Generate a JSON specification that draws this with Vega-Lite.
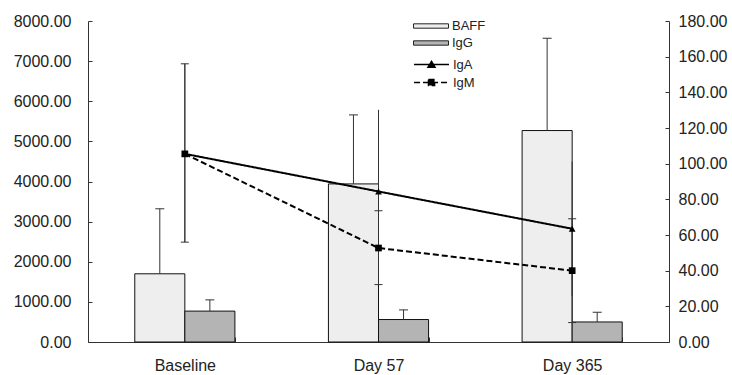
{
  "$schema": "https://vega.github.io/schema/vega-lite/v6.json",
  "width": 581,
  "height": 321,
  "autosize": {"type": "none"},
  "padding": {"left": 88, "top": 21, "right": 63, "bottom": 33},
  "background": "white",
  "config": {
    "view": {"stroke": null},
    "font": "Liberation Sans",
    "axis": {"labelFont": "Liberation Sans", "labelFontSize": 16, "labelColor": "#222", "domainColor": "#333", "tickColor": "#333", "grid": false},
    "legend": {"labelFont": "Liberation Sans"}
  },
  "datasets": {
    "bars": [
      {"time": "Baseline", "series": "BAFF", "value": 1700, "upper": 3320},
      {"time": "Baseline", "series": "IgG", "value": 770, "upper": 1050},
      {"time": "Day 57", "series": "BAFF", "value": 3940, "upper": 5660},
      {"time": "Day 57", "series": "IgG", "value": 560, "upper": 800},
      {"time": "Day 365", "series": "BAFF", "value": 5270, "upper": 7570},
      {"time": "Day 365", "series": "IgG", "value": 500, "upper": 740}
    ],
    "lines": [
      {"time": "Baseline", "series": "IgA", "value": 105.5, "lo": 56, "hi": 156},
      {"time": "Baseline", "series": "IgM", "value": 105.5, "lo": 56, "hi": 156},
      {"time": "Day 57", "series": "IgA", "value": 84.4, "lo": 38.6, "hi": 130.2},
      {"time": "Day 57", "series": "IgM", "value": 52.7, "lo": 32.2, "hi": 73.6},
      {"time": "Day 365", "series": "IgA", "value": 63.5, "lo": 25.8, "hi": 101.2},
      {"time": "Day 365", "series": "IgM", "value": 40, "lo": 10.9, "hi": 69.1}
    ]
  },
  "encoding": {
    "x": {
      "field": "time", "type": "nominal", "title": null,
      "sort": ["Baseline", "Day 57", "Day 365"],
      "scale": {"paddingInner": 0.483, "paddingOuter": 0.2415},
      "axis": {"labelAngle": 0, "tickBand": "extent", "tickSize": -5, "labelPadding": 20}
    }
  },
  "layer": [
    {
      "data": {"name": "bars"},
      "encoding": {
        "xOffset": {"field": "series", "type": "nominal", "sort": ["BAFF", "IgG"], "scale": {"paddingInner": 0, "paddingOuter": 0}}
      },
      "layer": [
        {
          "mark": {"type": "bar", "stroke": "#111", "strokeWidth": 1},
          "encoding": {
            "y": {"field": "value", "type": "quantitative", "title": null, "scale": {"domain": [0, 8000], "nice": false},
              "axis": {"orient": "left", "values": [0, 1000, 2000, 3000, 4000, 5000, 6000, 7000, 8000], "format": ".2f", "tickSize": -4, "labelPadding": 21}},
            "fill": {
              "field": "series", "type": "nominal",
              "scale": {"domain": ["BAFF", "IgG"], "range": ["#eeeeee", "#b4b4b4"]},
              "legend": {
                "title": null, "orient": "none", "legendX": 341, "legendY": -5, "padding": 0,
                "symbolType": "M-2.68,-0.23L1,-0.23L1,0.23L-2.68,0.23Z", "symbolSize": 361,
                "symbolStrokeColor": "#222", "symbolStrokeWidth": 1,
                "labelFontSize": 13, "labelColor": "#222", "labelOffset": 3, "rowPadding": 0
              }
            }
          }
        },
        {
          "mark": {"type": "rule", "stroke": "#333", "strokeWidth": 1},
          "encoding": {
            "y": {"field": "value", "type": "quantitative", "title": null, "scale": {"domain": [0, 8000], "nice": false},
              "axis": {"orient": "left", "values": [0, 1000, 2000, 3000, 4000, 5000, 6000, 7000, 8000], "format": ".2f", "tickSize": -4, "labelPadding": 21}},
            "y2": {"field": "upper"}
          }
        },
        {
          "mark": {"type": "tick", "size": 9, "thickness": 1, "color": "#333", "opacity": 1},
          "encoding": {
            "y": {"field": "upper", "type": "quantitative", "title": null, "scale": {"domain": [0, 8000], "nice": false},
              "axis": {"orient": "left", "values": [0, 1000, 2000, 3000, 4000, 5000, 6000, 7000, 8000], "format": ".2f", "tickSize": -4, "labelPadding": 21}}
          }
        }
      ]
    },
    {
      "data": {"name": "lines"},
      "layer": [
        {
          "mark": {"type": "rule", "stroke": "#333", "strokeWidth": 1},
          "encoding": {
            "y": {"field": "lo", "type": "quantitative", "title": null, "scale": {"domain": [0, 180], "nice": false},
              "axis": {"orient": "right", "values": [0, 20, 40, 60, 80, 100, 120, 140, 160, 180], "format": ".2f", "tickSize": -4, "labelPadding": 13}},
            "y2": {"field": "hi"}
          }
        },
        {
          "transform": [{"filter": "datum.series === 'IgM'"}],
          "mark": {"type": "tick", "size": 8, "thickness": 1, "color": "#333", "opacity": 1},
          "encoding": {
            "y": {"field": "lo", "type": "quantitative", "title": null, "scale": {"domain": [0, 180], "nice": false},
              "axis": {"orient": "right", "values": [0, 20, 40, 60, 80, 100, 120, 140, 160, 180], "format": ".2f", "tickSize": -4, "labelPadding": 13}}
          }
        },
        {
          "transform": [{"filter": "datum.series === 'IgM'"}],
          "mark": {"type": "tick", "size": 8, "thickness": 1, "color": "#333", "opacity": 1},
          "encoding": {
            "y": {"field": "hi", "type": "quantitative", "title": null, "scale": {"domain": [0, 180], "nice": false},
              "axis": {"orient": "right", "values": [0, 20, 40, 60, 80, 100, 120, 140, 160, 180], "format": ".2f", "tickSize": -4, "labelPadding": 13}}
          }
        },
        {
          "mark": {"type": "line", "stroke": "#000", "strokeWidth": 2},
          "encoding": {
            "y": {"field": "value", "type": "quantitative", "title": null, "scale": {"domain": [0, 180], "nice": false},
              "axis": {"orient": "right", "values": [0, 20, 40, 60, 80, 100, 120, 140, 160, 180], "format": ".2f", "tickSize": -4, "labelPadding": 13}},
            "strokeDash": {
              "field": "series", "type": "nominal",
              "scale": {"domain": ["IgA", "IgM"], "range": [[1, 0], [6, 3]]},
              "legend": {
                "title": null, "orient": "none", "legendX": 341, "legendY": 33, "padding": 0,
                "symbolSize": 361, "symbolStrokeColor": "#000", "symbolStrokeWidth": 1.5,
                "labelFontSize": 13, "labelColor": "#222", "labelOffset": 3, "rowPadding": 0,
                "encode": {
                  "symbols": {
                    "update": {
                      "shape": {"signal": "datum.value === 'IgA' ? 'M-2.68,0L1,0M-1.21,0.3L-0.84,-0.33L-0.47,0.3Z' : 'M-2.68,0L1,0M-1.16,-0.32L-0.52,-0.32L-0.52,0.32L-1.16,0.32Z'"},
                      "fill": {"value": "#000"},
                      "stroke": {"value": "#000"},
                      "strokeWidth": {"value": 1.5}
                    }
                  }
                }
              }
            }
          }
        },
        {
          "transform": [{"filter": "datum.series === 'IgA'"}],
          "mark": {"type": "point", "shape": "triangle-up", "filled": true, "color": "#000", "size": 45, "opacity": 1},
          "encoding": {
            "y": {"field": "value", "type": "quantitative", "title": null, "scale": {"domain": [0, 180], "nice": false},
              "axis": {"orient": "right", "values": [0, 20, 40, 60, 80, 100, 120, 140, 160, 180], "format": ".2f", "tickSize": -4, "labelPadding": 13}}
          }
        },
        {
          "transform": [{"filter": "datum.series === 'IgM'"}],
          "mark": {"type": "point", "shape": "square", "filled": true, "color": "#000", "size": 45, "opacity": 1},
          "encoding": {
            "y": {"field": "value", "type": "quantitative", "title": null, "scale": {"domain": [0, 180], "nice": false},
              "axis": {"orient": "right", "values": [0, 20, 40, 60, 80, 100, 120, 140, 160, 180], "format": ".2f", "tickSize": -4, "labelPadding": 13}}
          }
        }
      ]
    }
  ],
  "resolve": {"scale": {"y": "independent"}}
}
